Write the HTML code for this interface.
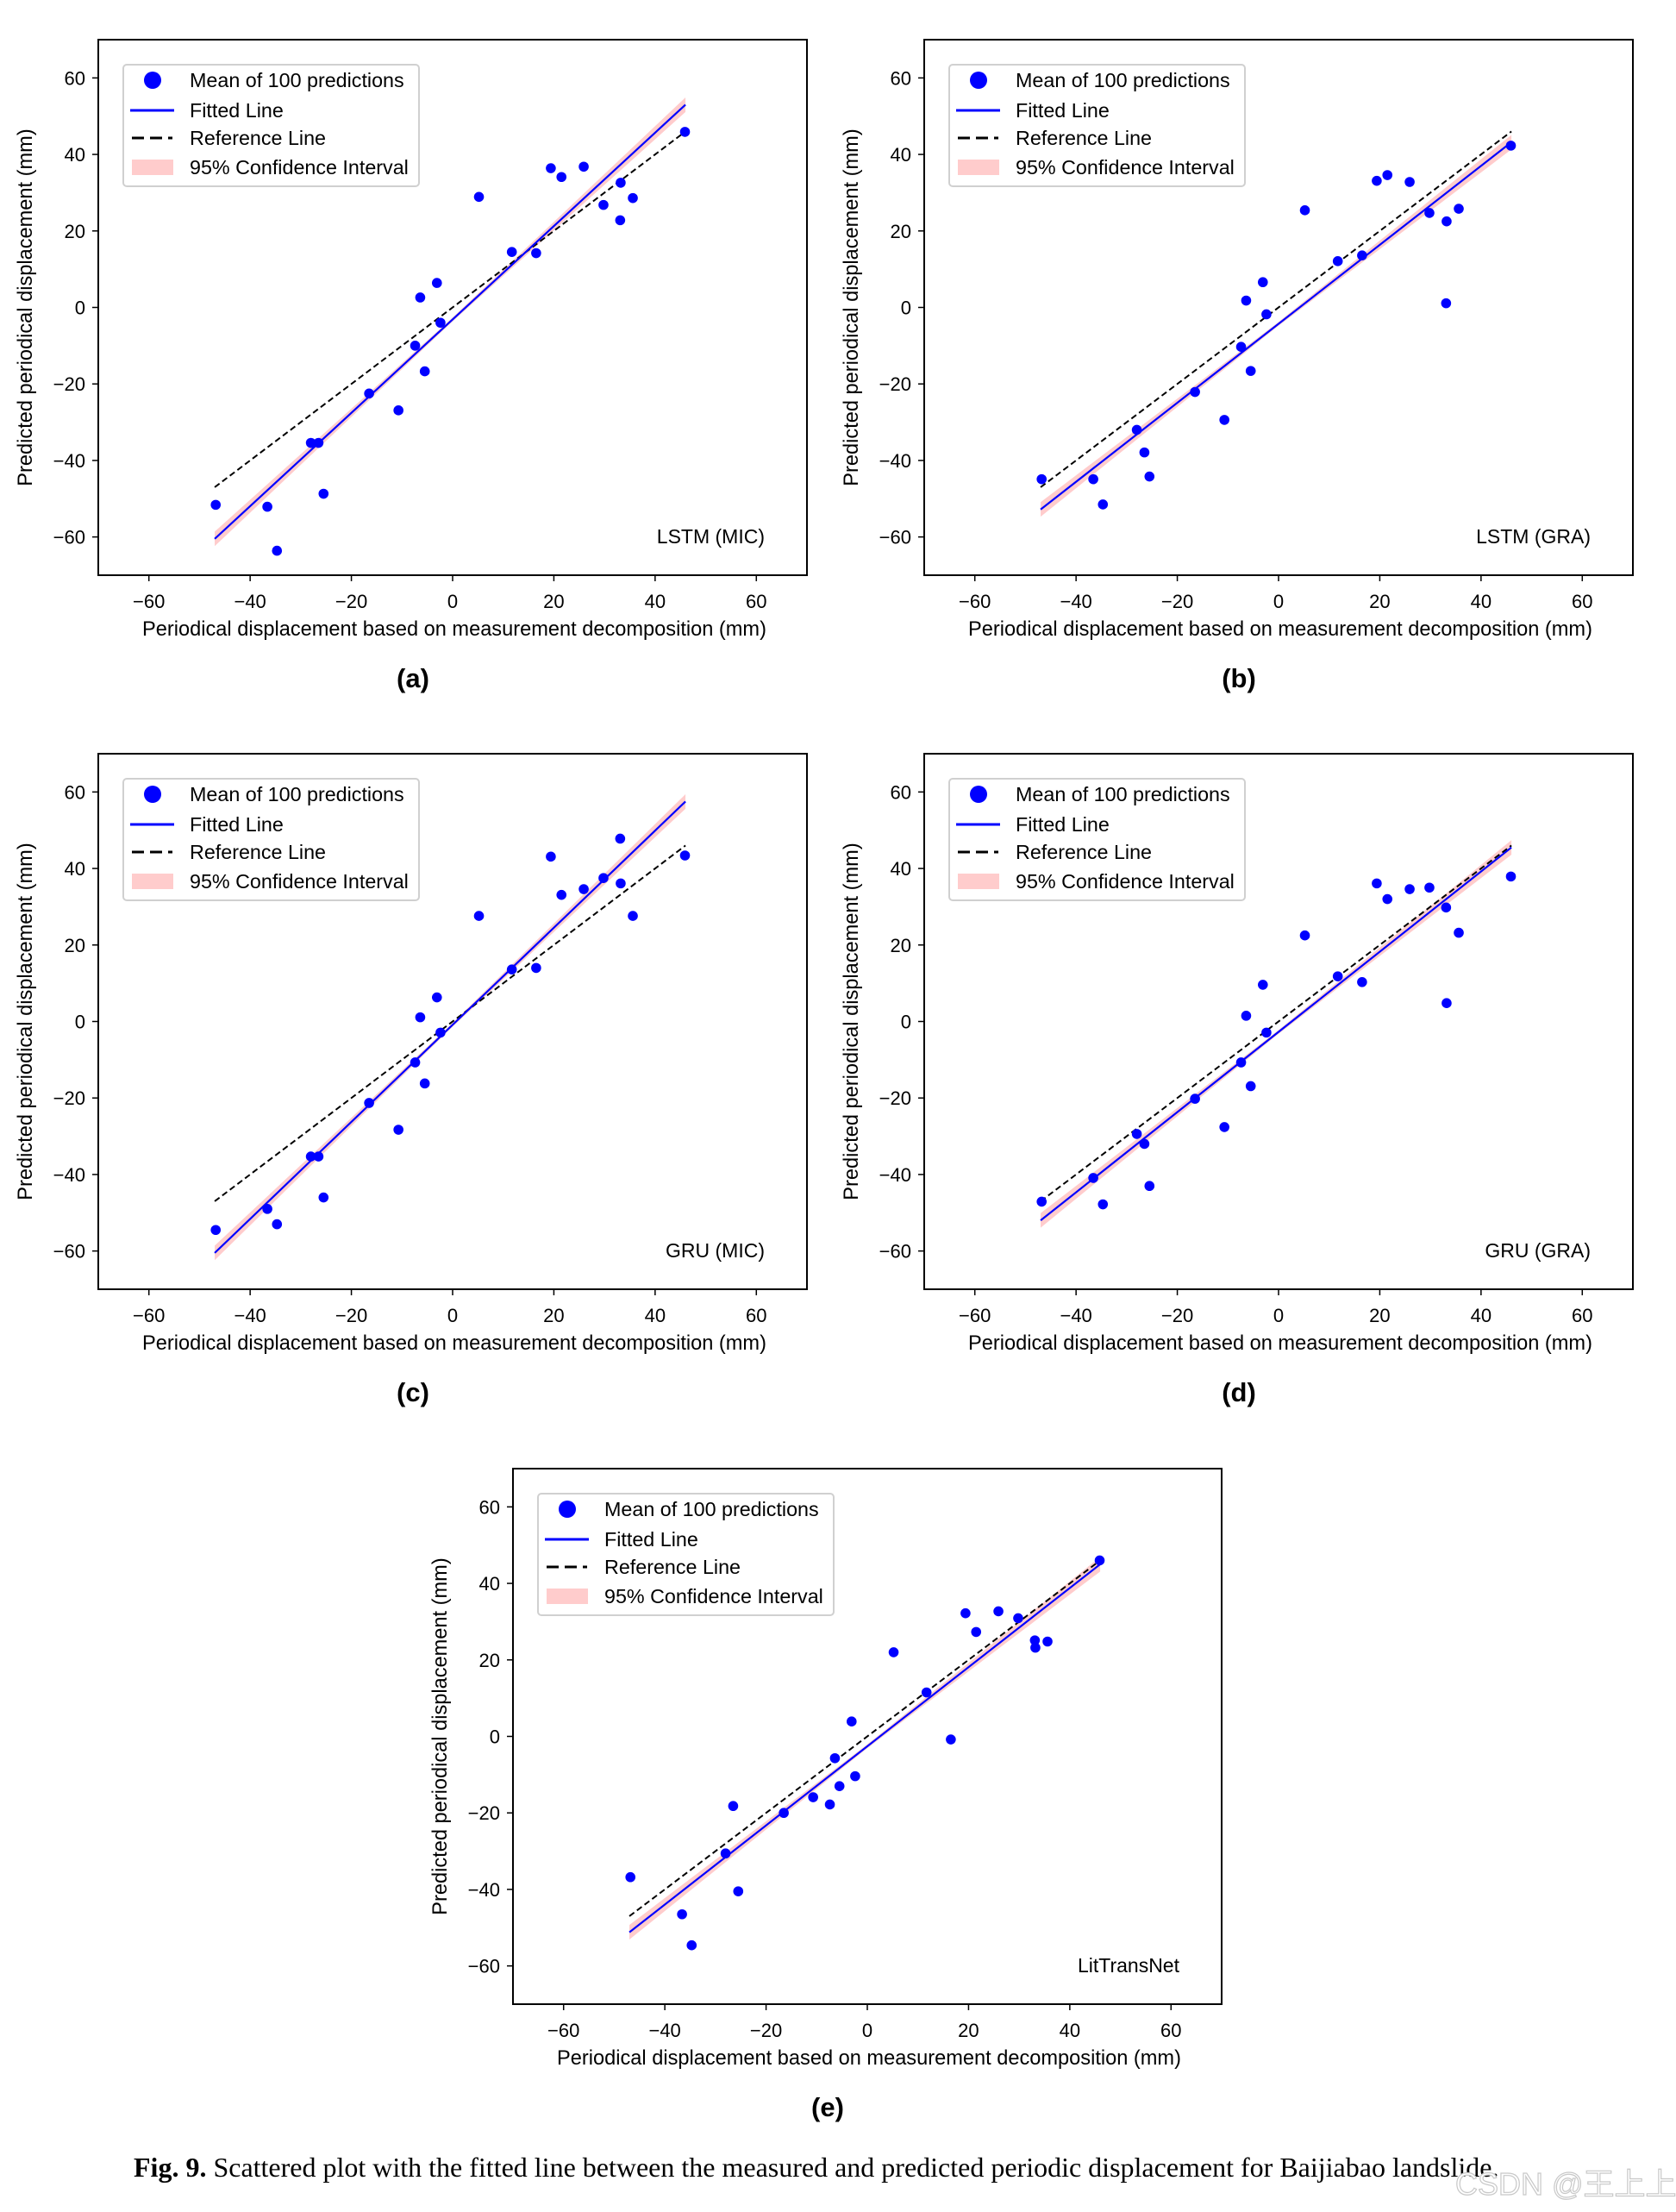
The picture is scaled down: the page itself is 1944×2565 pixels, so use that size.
<!DOCTYPE html>
<html><head><meta charset="utf-8"><style>
html,body{margin:0;padding:0;background:#fff;}
svg{display:block;font-family:"Liberation Sans",Arial,sans-serif;}
</style></head><body>
<svg id="fig" width="1944" height="2565" viewBox="0 0 1944 2565" xmlns="http://www.w3.org/2000/svg">
<text x="155" y="2524" font-family="Liberation Serif, serif" font-size="32"><tspan font-weight="bold">Fig. 9.</tspan> Scattered plot with the fitted line between the measured and predicted periodic displacement for Baijiabao landslide.</text>
<text x="1688" y="2545" font-family="Liberation Sans, 'Noto Sans CJK SC', sans-serif" font-size="36" fill="#fff" stroke="#c8c8c8" stroke-width="1.2">CSDN @王上上</text>
</svg>
<script>
const measuredX = [-46.8,-36.6,-34.7,-28,-26.5,-25.5,-16.5,-10.7,-7.4,-6.4,-5.5,-3.1,-2.4,5.2,11.7,16.5,19.4,21.5,25.9,29.8,33.1,33.2,35.6,45.9];
const predA = [-51.6,-52.1,-63.6,-35.4,-35.4,-48.7,-22.5,-26.9,-10,2.6,-16.7,6.4,-4,28.9,14.5,14.2,36.4,34.1,36.8,26.8,22.8,32.6,28.6,45.9];
const predB = [-44.9,-44.9,-51.5,-32,-37.9,-44.2,-22.1,-29.4,-10.3,1.8,-16.6,6.6,-1.8,25.4,12.1,13.6,33.1,34.6,32.8,24.7,1.1,22.5,25.8,42.3];
const predC = [-54.5,-49,-53,-35.3,-35.3,-46,-21.3,-28.3,-10.7,1.1,-16.2,6.3,-2.9,27.6,13.6,14,43.1,33.1,34.6,37.5,47.8,36.1,27.6,43.4];
const predD = [-47.1,-40.9,-47.8,-29.4,-32,-43,-20.2,-27.6,-10.7,1.5,-16.9,9.6,-2.9,22.5,11.8,10.3,36.1,32,34.6,35,29.8,4.8,23.2,37.9];
const predE = [-36.8,-46.5,-54.6,-30.6,-18.2,-40.5,-20,-15.9,-17.8,-5.7,-13,3.9,-10.4,22,11.5,-0.8,32.2,27.3,32.7,30.9,25.1,23.2,24.8,46];
const fitStartY = [-60.5,-52.8,-60.5,-52,-51.2];
const fitEndY = [53,43.2,57.5,45.5,45];
const panelNames = ["LSTM (MIC)","LSTM (GRA)","GRU (MIC)","GRU (GRA)","LitTransNet"];
const panelLetters = ["(a)","(b)","(c)","(d)","(e)"];
const ticks = [-60,-40,-20,0,20,40,60];
const xMin=-47, xMax=46;

const NS="http://www.w3.org/2000/svg";
const fig=document.getElementById('fig');
function mk(tag,attrs,parent,text){const e=document.createElementNS(NS,tag);for(const k in attrs)e.setAttribute(k,attrs[k]);if(text!==undefined)e.textContent=text;parent.appendChild(e);return e;}
const boxes=[[114,46],[1072,46],[114,874],[1072,874],[595,1703]];
const preds=[predA,predB,predC,predD,predE];
const W=822,H=621;
boxes.forEach((b,i)=>{
  const L=b[0],T=b[1];
  const sx=v=>L+(v+70)/140*W, sy=v=>T+(70-v)/140*H;
  const g=mk('g',{},fig);
  
  
  const n=20, up=[], dn=[];
  for(let k=0;k<=n;k++){const x=xMin+(xMax-xMin)*k/n;const y=fitStartY[i]+(fitEndY[i]-fitStartY[i])*k/n;const w=0.5+1.4*Math.abs(k-n/2)/(n/2);up.push(sx(x)+','+sy(y+w));dn.unshift(sx(x)+','+sy(y-w));}
  const band=mk('polygon',{points:up.concat(dn).join(' '),fill:'#ffcccc'},g);
  
  
  const ref=mk('line',{x1:sx(xMin),y1:sy(xMin),x2:sx(xMax),y2:sy(xMax),stroke:'#000','stroke-width':2,'stroke-dasharray':'7,4'},g);
  
  
  const fit=mk('line',{x1:sx(xMin),y1:sy(fitStartY[i]),x2:sx(xMax),y2:sy(fitEndY[i]),stroke:'#0000ff','stroke-width':2.2},g);
  
  
  measuredX.forEach((x,j)=>{const c=mk('circle',{cx:sx(x),cy:sy(preds[i][j]),r:5.8,fill:'#0000ff'},g);
    
    });
  const fr=mk('rect',{x:L,y:T,width:W,height:H,fill:'none',stroke:'#000','stroke-width':2},g);
  
  
  ticks.forEach(t=>{
    mk('line',{x1:sx(t),y1:T+H,x2:sx(t),y2:T+H+7,stroke:'#000','stroke-width':1.5},g);
    const xt=mk('text',{x:sx(t),y:T+H+38,'font-size':22,'text-anchor':'middle'},g,t<0?'\u2212'+(-t):String(t));
    
    
    mk('line',{x1:L-7,y1:sy(t),x2:L,y2:sy(t),stroke:'#000','stroke-width':1.5},g);
    const yt=mk('text',{x:L-15,y:sy(t)+8,'font-size':22,'text-anchor':'end'},g,t<0?'\u2212'+(-t):String(t));
    
    
  });
  const xl=mk('text',{x:L+W/2+2,y:T+H+70,'font-size':23.6,'text-anchor':'middle'},g,'Periodical displacement based on measurement decomposition (mm)');
  
  
  const yx=L-77, yy=T+H/2;
  const yl=mk('text',{x:yx,y:yy,'font-size':23.6,'text-anchor':'middle',transform:`rotate(-90 ${yx} ${yy})`},g,'Predicted periodical displacement (mm)');
  
  
  const ml=mk('text',{x:L+W-49,y:T+H-37,'font-size':23,'text-anchor':'end'},g,panelNames[i]);
  
  
  const pl=mk('text',{x:L+W/2-46,y:T+H+130,'font-size':31,'font-weight':'bold','text-anchor':'middle'},g,panelLetters[i]);
  
  
  const lg=mk('g',{},g);
  
  
  mk('rect',{x:L+29,y:T+29,width:343,height:141,rx:4,fill:'#fff',stroke:'#d0d0d0','stroke-width':2},lg);
  const rows=[T+47,T+82,T+114,T+148];
  mk('circle',{cx:L+63,cy:rows[0],r:10,fill:'#0000ff'},lg);
  mk('line',{x1:L+37,y1:rows[1],x2:L+88,y2:rows[1],stroke:'#0000ff','stroke-width':3},lg);
  mk('line',{x1:L+39,y1:rows[2],x2:L+86,y2:rows[2],stroke:'#000','stroke-width':3,'stroke-dasharray':'14,7'},lg);
  mk('rect',{x:L+39,y:rows[3]-9,width:48,height:18,fill:'#ffcccc'},lg);
  ['Mean of 100 predictions','Fitted Line','Reference Line','95% Confidence Interval'].forEach((s,k)=>{
    const t=mk('text',{x:L+106,y:rows[k]+8,'font-size':23.3},lg,s);
    
    
  });
});
</script>
</body></html>
